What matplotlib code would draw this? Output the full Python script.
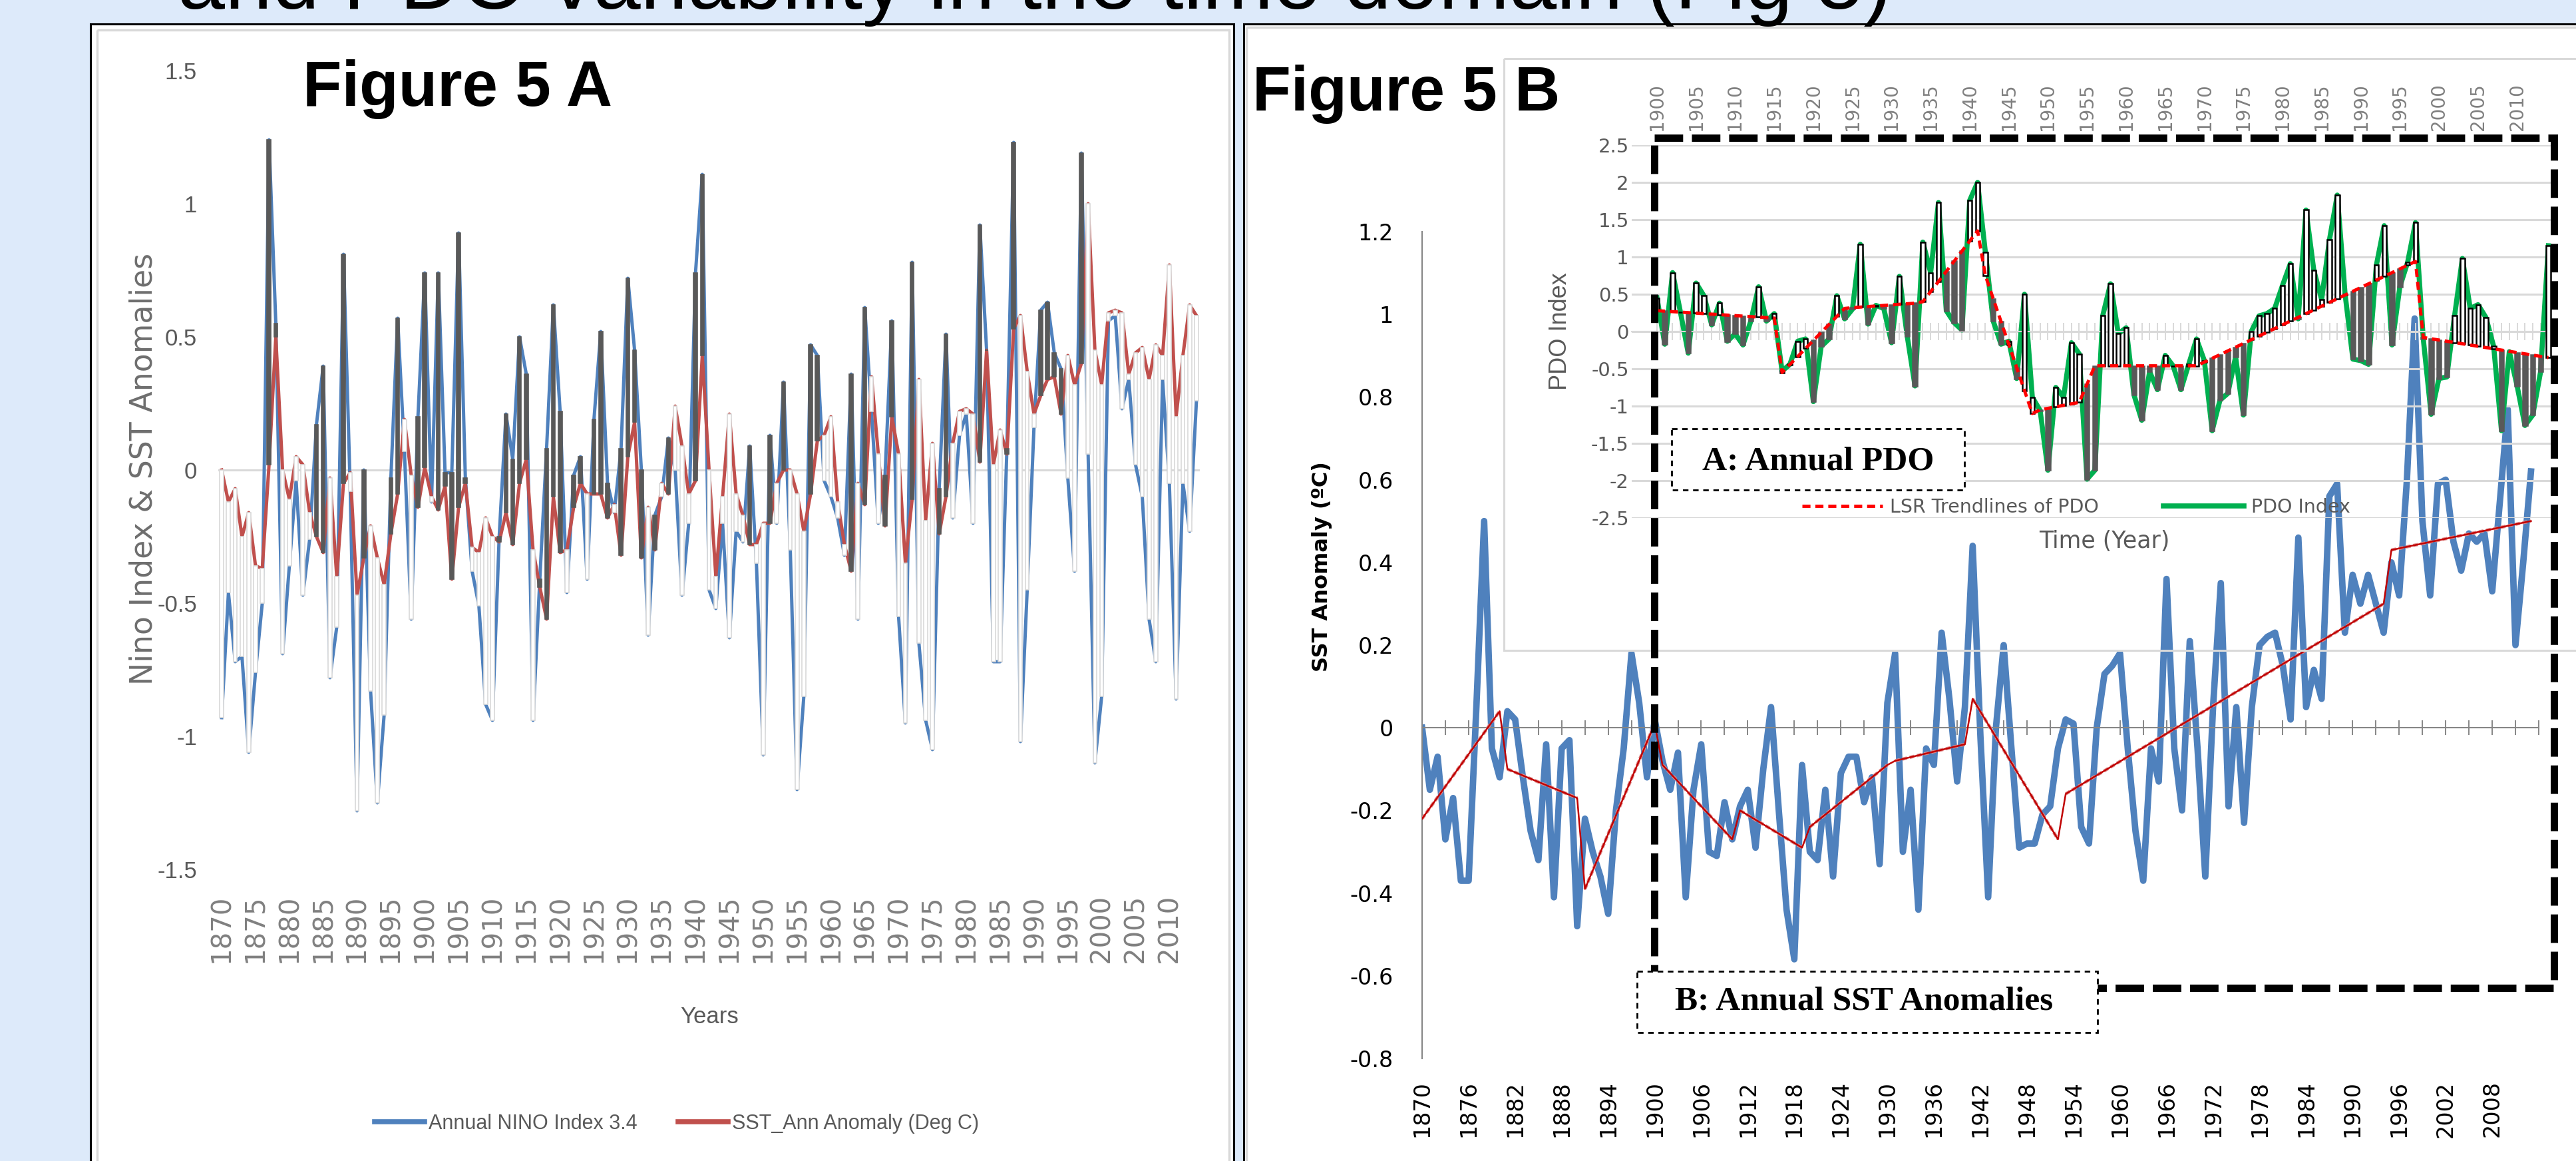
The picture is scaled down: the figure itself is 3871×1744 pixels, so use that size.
import numpy as np
import matplotlib
matplotlib.use("Agg")
import matplotlib.pyplot as plt
from matplotlib.patches import Rectangle
from matplotlib.transforms import Affine2D
from matplotlib.ticker import FixedLocator, FuncFormatter

plt.rcParams['axes.unicode_minus'] = False

W, H = 3871, 1744
NARROW = ['Liberation Sans', 'DejaVu Sans']
SANS = ['DejaVu Sans']

# ---- Figure 5 A data: annual Nino 3.4 index and SST anomaly (1870-2014)
years_a = np.arange(1870, 2015)
nino = [-0.93, -0.46, -0.72, -0.70, -1.06, -0.76, -0.50, 1.24, 0.55, -0.69,
        -0.36, -0.04, -0.47, -0.26, 0.17, 0.39, -0.78, -0.59, 0.81, -0.08,
        -1.28, 0.00, -0.83, -1.25, -0.92, -0.03, 0.57, 0.07, -0.56, 0.20,
        0.74, -0.12, 0.74, -0.01, -0.01, 0.89, -0.03, -0.38, -0.51, -0.88,
        -0.94, -0.25, 0.21, 0.04, 0.50, 0.36, -0.94, -0.41, 0.08, 0.62,
        0.22, -0.46, -0.02, 0.05, -0.41, 0.19, 0.52, -0.05, -0.16, 0.08,
        0.72, 0.45, 0.00, -0.62, -0.17, -0.10, 0.12, 0.00, -0.47, -0.20,
        0.74, 1.11, -0.45, -0.52, -0.20, -0.63, -0.23, -0.27, 0.09, -0.35,
        -1.07, 0.13, -0.20, 0.33, -0.30, -1.20, -0.85, 0.47, 0.43, -0.04,
        -0.10, -0.18, -0.32, 0.36, -0.56, 0.61, 0.22, -0.20, -0.02, 0.56,
        -0.55, -0.95, 0.78, -0.65, -0.94, -1.05, -0.07, 0.51, -0.18, 0.13,
        0.21, -0.20, 0.92, 0.45, -0.72, -0.72, 0.08, 1.23, -1.02, -0.45,
        0.16, 0.60, 0.63, 0.44, 0.38, -0.03, -0.38, 1.19, 0.06, -1.10,
        -0.85, 0.56, 0.58, 0.23, 0.34, 0.02, -0.10, -0.56, -0.72, 0.34,
        -0.05, -0.86, -0.05, -0.23, 0.26]
sst_ann = [0.00, -0.12, -0.07, -0.25, -0.16, -0.36, -0.37, 0.02, 0.50, 0.00,
           -0.11, 0.05, 0.02, -0.16, -0.25, -0.31, -0.03, -0.40, -0.05, -0.01,
           -0.47, -0.33, -0.21, -0.33, -0.43, -0.24, -0.09, 0.19, -0.02, -0.14,
           0.01, -0.10, -0.15, -0.06, -0.41, -0.14, -0.05, -0.29, -0.31, -0.18,
           -0.25, -0.27, -0.16, -0.28, -0.05, 0.04, -0.30, -0.44, -0.56, -0.10,
           -0.31, -0.30, -0.14, -0.05, -0.09, -0.09, -0.09, -0.18, -0.13, -0.32,
           0.05, 0.18, -0.33, -0.14, -0.30, -0.05, -0.09, 0.24, 0.09, -0.09,
           -0.04, 0.43, 0.00, -0.40, -0.10, 0.21, -0.09, -0.17, -0.28, -0.28,
           -0.20, -0.20, -0.05, 0.00, 0.00, -0.09, -0.23, -0.09, 0.11, 0.13,
           0.20, -0.12, -0.28, -0.38, -0.05, -0.13, 0.35, 0.06, -0.21, 0.20,
           0.06, -0.35, -0.11, 0.34, -0.19, 0.10, -0.24, -0.10, 0.10, 0.22,
           0.23, 0.21, 0.03, 0.45, 0.02, 0.15, 0.06, 0.53, 0.58, 0.37,
           0.21, 0.28, 0.34, 0.35, 0.21, 0.43, 0.32, 0.40, 1.00, 0.45,
           0.32, 0.59, 0.60, 0.59, 0.36, 0.44, 0.46, 0.34, 0.47, 0.43,
           0.77, 0.20, 0.43, 0.62, 0.58]

# ---- Figure 5 B data: annual SST anomaly (1870-2013) and LSR trend segments
years_b = np.arange(1870, 2014)
sst = [0.00, -0.15, -0.07, -0.27, -0.17, -0.37, -0.37, 0.05, 0.50, -0.05,
       -0.12, 0.04, 0.02, -0.12, -0.25, -0.32, -0.04, -0.41, -0.05, -0.03,
       -0.48, -0.22, -0.30, -0.36, -0.45, -0.20, -0.05, 0.18, 0.06, -0.12,
       0.02, -0.08, -0.15, -0.06, -0.41, -0.15, -0.04, -0.30, -0.31, -0.18,
       -0.27, -0.19, -0.15, -0.29, -0.10, 0.05, -0.20, -0.44, -0.56, -0.09,
       -0.30, -0.32, -0.15, -0.36, -0.11, -0.07, -0.07, -0.18, -0.12, -0.33,
       0.06, 0.18, -0.30, -0.15, -0.44, -0.05, -0.09, 0.23, 0.07, -0.13,
       0.05, 0.44, -0.02, -0.41, 0.00, 0.20, -0.05, -0.29, -0.28, -0.28,
       -0.21, -0.19, -0.05, 0.02, 0.01, -0.24, -0.28, 0.00, 0.13, 0.15,
       0.18, -0.05, -0.25, -0.37, -0.05, -0.13, 0.36, -0.05, -0.20, 0.21,
       -0.05, -0.36, 0.05, 0.35, -0.19, 0.05, -0.23, 0.05, 0.20, 0.22,
       0.23, 0.15, 0.02, 0.46, 0.05, 0.14, 0.07, 0.56, 0.59, 0.23,
       0.37, 0.30, 0.37, 0.30, 0.23, 0.40, 0.32, 0.60, 0.99, 0.50,
       0.32, 0.59, 0.60, 0.45, 0.38, 0.47, 0.45, 0.47, 0.33, 0.55,
       0.77, 0.20, 0.40, 0.62]
sst_seg_start = [1870, 1881, 1891, 1901, 1911, 1920, 1931, 1941, 1953, 1995]
sst_seg_end = [1880, 1890, 1900, 1910, 1919, 1930, 1940, 1952, 1994, 2013]
sst_seg_v0 = [-0.22, -0.10, -0.39, -0.09, -0.20, -0.24, -0.08, 0.07, -0.16, 0.43]
sst_seg_v1 = [0.04, -0.17, 0.01, -0.27, -0.29, -0.09, -0.04, -0.27, 0.30, 0.50]

# ---- Inset data: annual PDO index (1900-2014) and LSR trend segments
years_pdo = np.arange(1900, 2015)
pdo = [0.45, -0.17, 0.79, 0.26, -0.29, 0.65, 0.48, 0.09, 0.38, -0.13,
       -0.03, -0.18, 0.14, 0.60, 0.14, 0.24, -0.53, -0.44, -0.13, -0.10,
       -0.94, -0.20, -0.10, 0.48, 0.17, 0.30, 1.17, 0.10, 0.35, 0.31,
       -0.15, 0.74, -0.06, -0.73, 1.20, 0.79, 1.73, 0.28, 0.12, 0.02,
       1.76, 2.00, 1.06, 0.14, -0.17, -0.13, -0.63, 0.50, -0.88, -1.06,
       -1.86, -0.75, -0.88, -0.15, -0.30, -1.98, -1.86, 0.21, 0.64, -0.03,
       0.05, -0.85, -1.19, -0.54, -0.78, -0.32, -0.46, -0.78, -0.44, -0.10,
       -0.39, -1.33, -0.92, -0.83, -0.34, -1.12, 0.00, 0.21, 0.24, 0.31,
       0.62, 0.91, 0.17, 1.63, 0.82, 0.43, 1.23, 1.83, 0.50, -0.37,
       -0.39, -0.44, 0.89, 1.42, -0.18, 0.60, 0.93, 1.46, -0.10, -1.11,
       -0.63, -0.61, 0.21, 0.98, 0.31, 0.36, 0.19, -0.20, -1.33, -0.27,
       -0.73, -1.26, -1.12, -0.54, 1.15]
pdo_seg_start = [1900, 1916, 1925, 1934, 1942, 1949, 1956, 1969, 1998]
pdo_seg_end = [1915, 1924, 1933, 1941, 1948, 1954, 1968, 1997, 2014]
pdo_seg_v0 = [0.28, -0.55, 0.32, 0.40, 0.75, -1.05, -0.46, -0.46, -0.08]
pdo_seg_v1 = [0.18, 0.31, 0.38, 1.35, -1.10, -0.95, -0.46, 0.94, -0.35]

nino = np.array(nino)
sst_ann = np.array(sst_ann)
pdo = np.array(pdo)

fig = plt.figure(figsize=(W / 100, H / 100), dpi=100, facecolor='#DDEAFA')
# pixel coordinates, origin top-left
px = Affine2D().scale(1.0 / W, -1.0 / H).translate(0, 1) + fig.transFigure


def frac(x0, y0, x1, y1):
    return [x0 / W, 1 - y1 / H, (x1 - x0) / W, (y1 - y0) / H]


def fmt(v, pos):
    return f"{round(v, 1) + 0.0:g}"


# slide panels
fig.add_artist(Rectangle((136, 36), 1718, 1730, transform=px, fc='white', ec='black', lw=2.2, zorder=-3))
fig.add_artist(Rectangle((146, 45), 1701, 1730, transform=px, fill=False, ec='#D9D9D9', lw=2.5, zorder=-2))
fig.add_artist(Rectangle((1869, 36), 2030, 1730, transform=px, fc='white', ec='black', lw=2.2, zorder=-3))
fig.add_artist(Rectangle((1873, 41), 2030, 1730, transform=px, fill=False, ec='#D9D9D9', lw=2.5, zorder=-2))

fig.text(267, 13, 'and PDO variability in the time domain (Fig 5)', transform=px,
         fontsize=92, family=['Liberation Sans', 'DejaVu Sans'], va='baseline', ha='left')

# ================= Figure 5 A =================
ax_a = fig.add_axes(frac(328, 106, 1803, 1306))
ax_a.set_facecolor('none')
ax_a.set_xlim(1869.5, 2014.5)
ax_a.set_ylim(-1.5, 1.5)
for s in ax_a.spines.values():
    s.set_visible(False)
ax_a.axhline(0, color='#D9D9D9', lw=2.2, zorder=0)
ax_a.vlines(years_a, np.minimum(nino, sst_ann), np.maximum(nino, sst_ann), color='#D9D9D9', lw=0.8, zorder=1)
ax_a.plot(years_a, nino, color='#4F81BD', lw=3.6, zorder=2, label='Annual NINO Index 3.4')
ax_a.plot(years_a, sst_ann, color='#C0504D', lw=3.6, zorder=2.1, label='SST_Ann Anomaly (Deg C)')
up_a = nino >= sst_ann
ax_a.bar(years_a, nino - sst_ann, bottom=sst_ann, width=0.55,
         color=['#595959' if u else 'white' for u in up_a],
         edgecolor=['#595959' if u else '#D9D9D9' for u in up_a], linewidth=1.2, zorder=3)
ax_a.set_yticks(np.arange(-1.5, 1.51, 0.5))
ax_a.yaxis.set_major_formatter(FuncFormatter(fmt))
ax_a.set_xticks(np.arange(1870, 2011, 5))
ax_a.tick_params(axis='y', length=0, pad=23, labelsize=25, labelcolor='#595959', labelfontfamily=NARROW[0])
ax_a.tick_params(axis='x', length=0, pad=27, labelsize=29, labelcolor='#808080', labelrotation=90)

fig.text(216, 704, 'Nino Index & SST Anomalies', transform=px, rotation=90, ha='center', va='center',
         fontsize=33, family=SANS, color='#6E6E6E')
fig.text(1066, 1527, 'Years', transform=px, ha='center', va='center', fontsize=25, family=NARROW, color='#595959')
leg_a = ax_a.legend(loc='center left', bbox_to_anchor=(563, 1688), bbox_transform=px, ncol=2, frameon=False,
                    handlelength=2.45, handletextpad=0.2, columnspacing=2.0, borderpad=0, borderaxespad=0,
                    prop={'family': NARROW, 'size': 22}, labelcolor='#595959')
for ln in leg_a.get_lines():
    ln.set_linewidth(5.5)

fig.text(455, 159, 'Figure 5 A', transform=px, fontsize=69, weight='bold',
         family=['Liberation Sans', 'DejaVu Sans'], va='baseline', ha='left')

# ================= Figure 5 B : SST =================
ax_b = fig.add_axes(frac(2137, 348, 3815, 1590))
ax_b.set_facecolor('none')
ax_b.set_xlim(1870, 2014)
ax_b.set_ylim(-0.8, 1.2)
ax_b.spines[['top', 'right']].set_visible(False)
ax_b.spines['left'].set_color('#868686')
ax_b.spines['left'].set_linewidth(1.5)
ax_b.spines['bottom'].set_position(('data', 0))
ax_b.spines['bottom'].set_color('#868686')
ax_b.spines['bottom'].set_linewidth(1.5)
ax_b.xaxis.set_major_locator(FixedLocator(np.arange(1870, 2015, 3)))
ax_b.tick_params(axis='x', direction='inout', length=16, width=1.4, color='#868686', labelbottom=False)
ax_b.set_yticks(np.arange(-0.8, 1.21, 0.2))
ax_b.yaxis.set_major_formatter(FuncFormatter(fmt))
ax_b.tick_params(axis='y', length=0, pad=31, labelsize=24, labelcolor='black')
sec_b = ax_b.secondary_xaxis('bottom')
sec_b.set_xticks(np.arange(1870, 2009, 6))
sec_b.tick_params(length=0, pad=24, labelsize=24, labelrotation=90)
sec_b.spines['bottom'].set_visible(False)

ax_b.plot(years_b, sst, color='#4F81BD', lw=7, zorder=2)
trend_bx, trend_bv = [], []
for s0, s1, v0, v1 in zip(sst_seg_start, sst_seg_end, sst_seg_v0, sst_seg_v1):
    ax_b.plot([s0, s1], [v0, v1], color='#E08A8A', lw=3.5, ls=(0, (1.5, 0.8)), zorder=3)
    trend_bx += [s0, s1]
    trend_bv += [v0, v1]
ax_b.plot(trend_bx, trend_bv, color='#C00000', lw=1.8, zorder=4)

fig.text(1986, 851, 'SST Anomaly (\u00baC)', transform=px, rotation=90, ha='center', va='center',
         fontsize=23, weight='bold', family=SANS, color='black')

# inset chart border
fig.add_artist(Rectangle((2260, 88), 1700, 889, transform=px, fill=False, ec='#D9D9D9', lw=2.2, zorder=0.5))

# ================= Figure 5 B : PDO inset =================
ax_in = fig.add_axes(frac(2452, 218, 3842, 778))
ax_in.set_zorder(2)
ax_in.set_facecolor('none')
ax_in.set_xlim(1896.77, 2015.06)
ax_in.set_ylim(-2.5, 2.5)
for k in ['top', 'right', 'left']:
    ax_in.spines[k].set_visible(False)
ax_in.spines['bottom'].set_position(('data', 0))
ax_in.spines['bottom'].set_color('#D9D9D9')
ax_in.spines['bottom'].set_linewidth(1.5)
ax_in.set_yticks(np.arange(-2.5, 2.51, 0.5))
ax_in.yaxis.set_major_formatter(FuncFormatter(fmt))
ax_in.grid(axis='y', color='#D9D9D9', lw=2.2)
ax_in.set_axisbelow(True)
ax_in.tick_params(axis='y', length=0, pad=3, labelsize=21, labelcolor='#595959')
ax_in.xaxis.set_major_locator(FixedLocator(years_pdo))
ax_in.tick_params(axis='x', direction='inout', length=19, width=1.4, color='#D9D9D9', labelbottom=False)
sec_in = ax_in.secondary_xaxis('top')
sec_in.set_xticks(np.arange(1900, 2011, 5))
sec_in.tick_params(length=0, pad=16, labelsize=20, labelrotation=90, labelcolor='#808080')
sec_in.spines['top'].set_visible(False)

trend_px, trend_pv = [], []
for s0, s1, v0, v1 in zip(pdo_seg_start, pdo_seg_end, pdo_seg_v0, pdo_seg_v1):
    trend_px += [s0, s1]
    trend_pv += [v0, v1]
base = np.interp(years_pdo, trend_px, trend_pv)
pdo_line, = ax_in.plot(years_pdo, pdo, color='#00B050', lw=5.5, zorder=2, label='PDO Index')
up_p = pdo >= base
ax_in.bar(years_pdo, pdo - base, bottom=base, width=0.55,
          color=['white' if u else '#595959' for u in up_p],
          edgecolor=['black' if u else '#595959' for u in up_p], linewidth=1.8, zorder=3)
trend_line, = ax_in.plot(trend_px, trend_pv, color='#FF0000', lw=3.5, ls=(0, (2.5, 1.5)), zorder=4,
                         label='LSR Trendlines of PDO')
ax_in.legend(handles=[trend_line, pdo_line], loc='center left', bbox_to_anchor=(2708, 762), bbox_transform=px,
             ncol=2, frameon=False, handlelength=4.25, handletextpad=0.4, columnspacing=3.4, borderpad=0,
             borderaxespad=0, prop={'family': SANS, 'size': 20.5}, labelcolor='#595959')

fig.text(2345, 498, 'PDO Index', transform=px, rotation=90, ha='center', va='center',
         fontsize=26, family=NARROW, color='#595959')
fig.text(3162, 813, 'Time (Year)', transform=px, ha='center', va='center', fontsize=25, family=SANS, color='#595959')

# dashed frames and annotation boxes
fig.add_artist(Rectangle((2486, 207), 1352, 1277, transform=px, fill=False, ec='black', lw=7.9,
                         ls=(0, (3.9, 1.2)), zorder=5))
fig.add_artist(Rectangle((2512, 644), 440, 92, transform=px, fc='white', ec='black', lw=2,
                         ls=(0, (3, 2.5)), zorder=6))
fig.text(2732, 705, 'A: Annual PDO', transform=px, ha='center', va='baseline', fontsize=37, weight='bold',
         family=['Liberation Serif', 'DejaVu Serif'], zorder=7)
fig.add_artist(Rectangle((2460, 1459), 692, 92, transform=px, fc='white', ec='black', lw=2,
                         ls=(0, (3, 2.5)), zorder=6))
fig.text(2801, 1516, 'B: Annual SST Anomalies', transform=px, ha='center', va='baseline', fontsize=37,
         weight='bold', family=['Liberation Serif', 'DejaVu Serif'], zorder=7)

fig.text(1882, 166, 'Figure 5 B', transform=px, fontsize=68, weight='bold',
         family=['Liberation Sans', 'DejaVu Sans'], va='baseline', ha='left', zorder=7)

fig.savefig('out.png', dpi=100, facecolor=fig.get_facecolor())
